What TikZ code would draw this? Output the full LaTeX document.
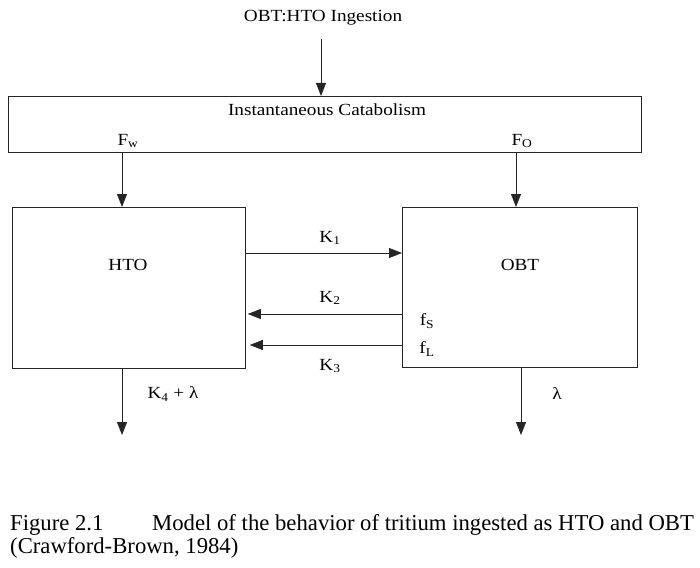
\documentclass[tikz,border=0pt]{standalone}
\usepackage{fontspec}
\setmainfont{Liberation Serif}
\newfontfamily\diagfont[FakeStretch=1.13]{Liberation Serif}
\usetikzlibrary{arrows.meta}
\begin{document}
\begin{tikzpicture}[x=1pt,y=-1pt,
  box/.style={draw=black!85, line width=0.8pt, inner sep=0pt, anchor=north west},
  lbl/.style={font=\diagfont\fontsize{17}{19}\selectfont, inner sep=0pt},
  captext/.style={font=\fontsize{22.7}{25}\selectfont, inner sep=0pt, anchor=base west},
  arr/.style={draw=black!85, line width=0.8pt, -{Triangle[length=13pt,width=10pt]}}]
\useasboundingbox (0,0) rectangle (700,567);
% top text and catabolism box
\node[lbl] (ing) at (323,18) {OBT:HTO Ingestion};
\node[box, minimum width=633pt, minimum height=56pt] (cat) at (8,96) {};
\node[lbl] (catt) at (327,110) {Instantaneous Catabolism};
\node[lbl] (fw) at (128,141) {F\textsubscript{w}};
\node[lbl] (fo) at (522,141) {F\textsubscript{O}};
\coordinate (ingtop) at (321,39);
\draw[arr] (ingtop) -- (cat.north -| ingtop);
% compartments
\node[box, minimum width=233pt, minimum height=161pt] (hto) at (12,207) {};
\node[box, minimum width=235pt, minimum height=160pt] (obt) at (402,207) {};
\node[lbl] (htot) at (128,265) {HTO};
\node[lbl] (obtt) at (520,265) {OBT};
\coordinate (fwx) at (122,0);
\coordinate (fox) at (516,0);
\draw[arr] (cat.south -| fwx) -- (hto.north -| fwx);
\draw[arr] (cat.south -| fox) -- (obt.north -| fox);
% exchange arrows
\coordinate (y1) at (0,253);
\coordinate (y2) at (0,314);
\coordinate (y3) at (0,345);
\draw[arr] (hto.east |- y1) -- (obt.west |- y1);
\draw[arr] (obt.west |- y2) -- ([xshift=2pt]hto.east |- y2);
\draw[arr] (obt.west |- y3) -- ([xshift=4pt]hto.east |- y3);
\node[lbl] (k1) at (330,238) {K\textsubscript{1}};
\node[lbl] (k2) at (330,298) {K\textsubscript{2}};
\node[lbl] (k3) at (330,366) {K\textsubscript{3}};
\node[lbl] (fs) at (427,321) {f\textsubscript{S}};
\node[lbl] (fl) at (427,349) {f\textsubscript{L}};
% outflows
\coordinate (o1) at (122,435);
\coordinate (o2) at (521,435);
\draw[arr] (hto.south -| o1) -- (o1);
\draw[arr] (obt.south -| o2) -- (o2);
\node[lbl] (k4) at (173,394) {K\textsubscript{4} + λ};
\node[lbl] (lam) at (557,394) {λ};
% caption
\node[captext] (cap1) at (10,530) {Figure 2.1};
\node[captext] (cap2) at (152,530) {Model of the behavior of tritium ingested as HTO and OBT};
\node[captext] (cap3) at (10,553) {(Crawford-Brown, 1984)};
\end{tikzpicture}
\end{document}
